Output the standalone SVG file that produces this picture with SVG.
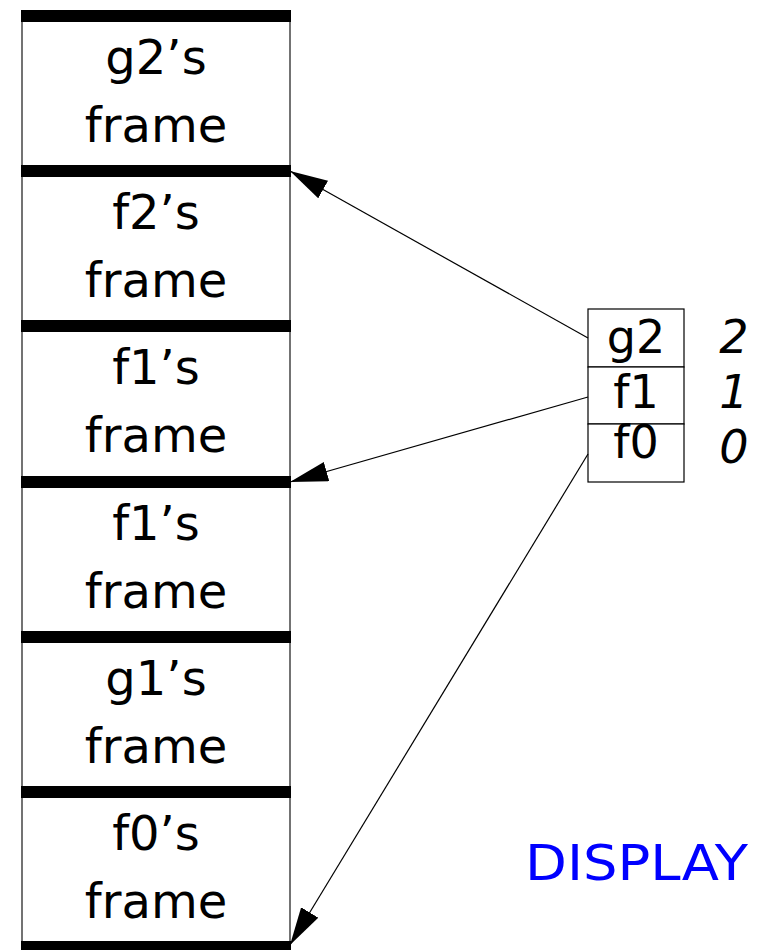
<svg xmlns="http://www.w3.org/2000/svg" width="761" height="950" viewBox="0 0 761 950">
<style>
.bar{fill:#000}
.side{stroke:#444;stroke-width:1.5;fill:none}
.lbl{font-family:"DejaVu Sans",sans-serif;font-size:48px;text-anchor:middle;fill:#000}
.cell{fill:#fff;stroke:#000;stroke-width:1.2}
.ctext{font-family:"DejaVu Sans",sans-serif;font-size:46px;text-anchor:middle;fill:#000}
.num{font-family:"DejaVu Sans",sans-serif;font-size:46px;font-style:italic;text-anchor:middle;fill:#000}
.conn{stroke:#000;stroke-width:1.2;fill:none;marker-end:url(#ah)}
</style>
<defs>
<marker id="ah" markerUnits="userSpaceOnUse" markerWidth="40" markerHeight="22" refX="38" refY="10" orient="auto">
<path d="M0,0 L38,10 L0,20 Z" fill="#000"/>
</marker>
</defs>
<rect width="761" height="950" fill="#fff"/>
<g id="stack">
<line class="side" x1="22" y1="16" x2="22" y2="946"/>
<line class="side" x1="290" y1="16" x2="290" y2="946"/>
</g>
<g id="frame-g2">
<rect class="bar" x="21" y="10" width="270" height="12"/>
<text class="lbl" x="156" y="74">g2’s</text>
<text class="lbl" x="156" y="142">frame</text>
</g>
<g id="frame-f2">
<rect class="bar" x="21" y="165" width="270" height="12"/>
<text class="lbl" x="156" y="229">f2’s</text>
<text class="lbl" x="156" y="297">frame</text>
</g>
<g id="frame-f1a">
<rect class="bar" x="21" y="320" width="270" height="12"/>
<text class="lbl" x="156" y="384">f1’s</text>
<text class="lbl" x="156" y="452">frame</text>
</g>
<g id="frame-f1b">
<rect class="bar" x="21" y="476" width="270" height="12"/>
<text class="lbl" x="156" y="540">f1’s</text>
<text class="lbl" x="156" y="608">frame</text>
</g>
<g id="frame-g1">
<rect class="bar" x="21" y="631" width="270" height="12"/>
<text class="lbl" x="156" y="695">g1’s</text>
<text class="lbl" x="156" y="763">frame</text>
</g>
<g id="frame-f0">
<rect class="bar" x="21" y="786" width="270" height="12"/>
<text class="lbl" x="156" y="850">f0’s</text>
<text class="lbl" x="156" y="918">frame</text>
<rect class="bar" x="21" y="941" width="270" height="12"/>
</g>
<g id="display">
<rect class="cell" x="588" y="309" width="96" height="58"/>
<rect class="cell" x="588" y="367" width="96" height="57"/>
<rect class="cell" x="588" y="424" width="96" height="58"/>
<text class="ctext" x="636" y="353">g2</text>
<text class="ctext" x="636" y="408">f1</text>
<text class="ctext" x="636" y="458">f0</text>
<text class="num" x="734" y="353">2</text>
<text class="num" x="734" y="408">1</text>
<text class="num" x="734" y="463">0</text>
</g>
<g id="connectors">
<line class="conn" x1="588" y1="338" x2="290" y2="171"/>
<line class="conn" x1="588" y1="397" x2="290" y2="482"/>
<line class="conn" x1="588" y1="454" x2="290" y2="945"/>
</g>
<g id="title">
<text x="525" y="880" font-family="DejaVu Sans, sans-serif" font-size="50" fill="#0000ff" textLength="223" lengthAdjust="spacingAndGlyphs">DISPLAY</text>
</g>
</svg>
